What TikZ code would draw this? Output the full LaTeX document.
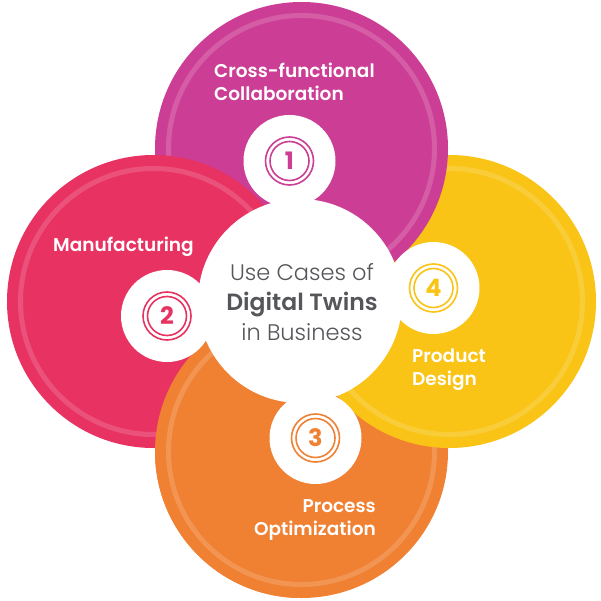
\documentclass[tikz,border=0pt]{standalone}
\usepackage{fontspec}
\setmainfont{Poppins}
\newfontfamily\poplight{Poppins Light}
\newfontfamily\popsemi{Poppins SemiBold}
\newfontfamily\popbold{Poppins Bold}
\definecolor{cmag}{RGB}{204,62,149}
\definecolor{cred}{RGB}{232,50,98}
\definecolor{cyel}{RGB}{249,196,21}
\definecolor{cora}{RGB}{240,128,50}
\definecolor{cgrey}{RGB}{85,86,90}
\tikzset{
  petal/.style={circle, minimum size=293pt, inner sep=0pt, fill=#1},
  ring/.style={draw=white, draw opacity=0.16, line width=5pt},
  hole/.style={circle, fill=white, inner sep=0pt, minimum size=92pt},
  numtxt/.style={text=#1, font=\popbold\fontsize{24}{24}\selectfont},
  lbl/.style={text=white, font=\popsemi\fontsize{18.5}{23}\selectfont, inner sep=0pt},
}
\begin{document}
\begin{tikzpicture}[x=1pt,y=-1pt]
\useasboundingbox (0,0) rectangle (601,601);
% petals
\node[petal=cora] (ora) at (301.5,451.5) {};
\draw[ring] (ora.center) circle[radius=133pt];
\node[petal=cyel] (yel) at (449.5,301.5) {};
\draw[ring] (yel.center) circle[radius=133pt];
\node[petal=cmag] (mag) at (301.5,148.5) {};
\draw[ring] (mag.center) circle[radius=133pt];
\node[petal=cred] (red) at (153.5,301.5) {};
\draw[ring] (red.center) circle[radius=133pt];
\begin{scope}
  \clip (0,301) rectangle (301.5,601);
  \node[petal=cora] (ora2) at (301.5,451.5) {};
  \draw[ring] (ora2.center) circle[radius=133pt];
\end{scope}
% centre
\node[circle, fill=white, minimum size=204pt, inner sep=0pt] (ctr) at (300,301) {};
\node[align=center, text=cgrey, inner sep=0pt, font=\poplight\fontsize{22.5}{30}\selectfont] (ctrtxt) at (302,302)
  {Use Cases of\\
   {\popsemi\fontsize{23.5}{30}\selectfont Digital Twins}\\
   in Business};
% holes with numbers
\foreach \n/\p/\c in {h1/{(289.5,161)}/cmag, h2/{(167,316)}/cred, h3/{(315.5,438)}/cora, h4/{(433.5,288)}/cyel}{
  \node[hole] (\n) at \p {};
  \draw[draw=\c, line width=1.6pt] (\n.center) circle[radius=24pt];
  \draw[draw=\c, line width=1.6pt] (\n.center) circle[radius=19.5pt];
}
\node[numtxt=cmag] (n1) at (h1.center) {1};
\node[numtxt=cred] (n2) at (h2.center) {2};
\node[numtxt=cora] (n3) at (h3.center) {3};
\node[numtxt=cyel] (n4) at (h4.center) {4};
% labels
\node[lbl, align=left, anchor=west] (l1) at (214,82) {Cross-functional\\Collaboration};
\node[lbl, anchor=west] (l2) at (53,247) {Manufacturing};
\node[lbl, align=left, anchor=west] (l4) at (412,370) {Product\\Design};
\node[lbl, align=right, anchor=east] (l3) at (376,520) {Process\\Optimization};
\end{tikzpicture}
\end{document}
